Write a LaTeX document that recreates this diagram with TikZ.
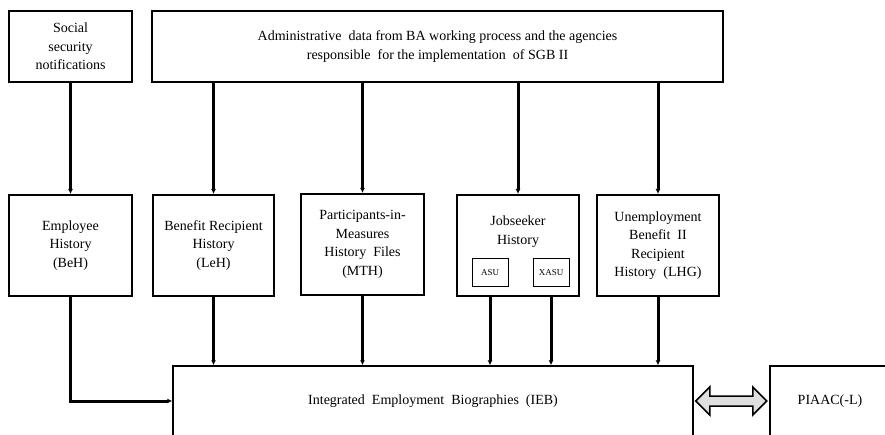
\documentclass[tikz,border=0pt]{standalone}
\usepackage{fontspec}
\setmainfont{Liberation Serif}
\usetikzlibrary{arrows.meta}
\tikzset{
  box/.style={draw, line width=2pt, align=center, inner sep=2pt, font=\fontsize{14}{18.5}\selectfont},
  bigbox/.style={box, line width=1.5pt},
  subbox/.style={draw, line width=1pt, minimum width=36, minimum height=28, inner sep=1pt, font=\fontsize{9}{10}\selectfont},
  feed/.style={line width=3pt, -{Latex[length=5pt,width=5pt]}},
  dblarrow/.style={draw, line width=1.5pt, fill=gray!25, line join=miter},
}
\begin{document}
\begin{tikzpicture}[x=1pt, y=-1pt]
  \clip (0,0) rectangle (885,435);
  % sources
  \node[box, minimum width=123, minimum height=71] (social) at (70.5, 46.5) {Social\\security\\notifications};
  \node[box, minimum width=571, minimum height=71] (admin) at (437.5, 46.5) {Administrative\ \ data from BA working process and the agencies\\responsible\ \ for the implementation\ \ of SGB II};

  % history files
  \node[box, minimum width=123, minimum height=101] (beh) at (70.5, 245.5) {Employee\\History\\(BeH)};
  \node[box, minimum width=121, minimum height=101] (leh) at (213.5, 245.5) {Benefit Recipient\\History\\(LeH)};
  \node[box, minimum width=123, minimum height=101] (mth) at (362.5, 244.5) {Participants-in-\\Measures\\History\ \ Files\\(MTH)};
  \node[box, minimum width=122, minimum height=101] (job) at (518, 245.5) {Jobseeker\\History\\[7pt]\strut};
  \node[box, minimum width=122, minimum height=101] (lhg) at (658, 245.5) {Unemployment\\Benefit\ \ II\\Recipient\\History\ \ (LHG)};
  \node[subbox] (asu) at (490, 273) {ASU};
  \node[subbox] (xasu) at (551, 273) {XASU};

  % integrated data
  \node[bigbox, minimum width=520, minimum height=70] (ieb) at (433, 401) {Integrated\ \ Employment\ \ Biographies\ \ (IEB)};
  \node[bigbox, minimum width=120, minimum height=70] (piaac) at (830, 401) {PIAAC(-L)};

  % feeds from the sources
  \draw[feed] (social) -- (beh);
  \draw[feed] (admin.south -| leh.north) -- (leh);
  \draw[feed] (admin.south -| mth.north) -- (mth);
  \draw[feed] (admin.south -| job.north) -- (job);
  \draw[feed] (admin.south -| lhg.north) -- (lhg);

  % feeds into the IEB
  \draw[feed] (beh) |- (ieb);
  \draw[feed] (leh) -- (leh |- ieb.north);
  \draw[feed] (mth) -- (mth |- ieb.north);
  \draw[feed] (asu |- job.south) -- (asu |- ieb.north);
  \draw[feed] (xasu |- job.south) -- (xasu |- ieb.north);
  \draw[feed] (lhg) -- (lhg |- ieb.north);

  % link to PIAAC
  \path[dblarrow] ([xshift=2pt]ieb.east) -- ++(14,-14) -- ++(0,9) -- ++(43,0) -- ++(0,-9)
    -- ++(14,14) -- ++(-14,14) -- ++(0,-9) -- ++(-43,0) -- ++(0,9) -- cycle;
\end{tikzpicture}
\end{document}
